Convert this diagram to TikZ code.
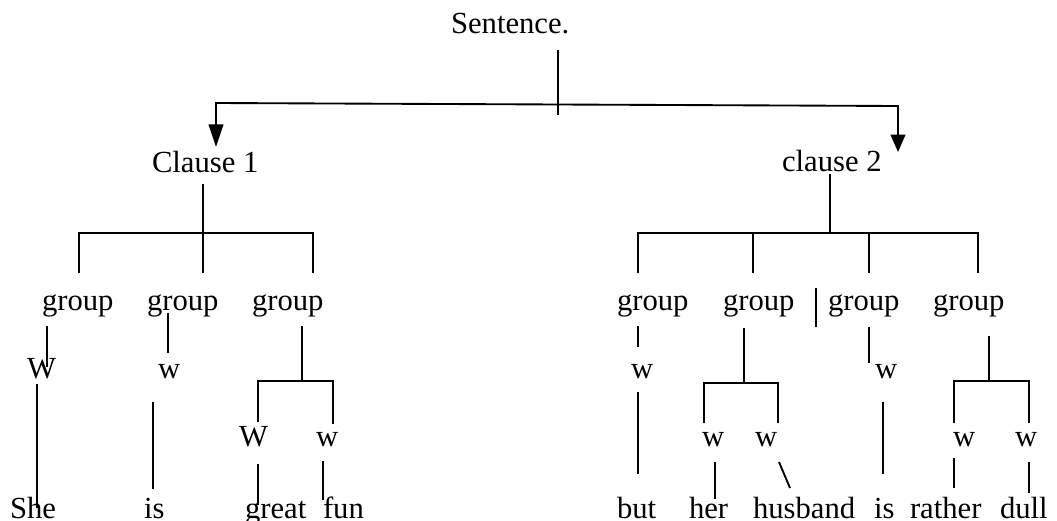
\documentclass[tikz,border=0pt]{standalone}
\usepackage{fontspec}
\setmainfont{Liberation Serif}
\usetikzlibrary{arrows.meta}
\begin{document}
\begin{tikzpicture}[x=0.75pt,y=-0.75pt,
  lbl/.style={anchor=base west,inner sep=0pt,outer sep=0pt,
    font=\fontsize{23}{28}\selectfont},
  conn/.style={line width=1.4pt,line cap=butt,line join=miter},
  headL/.style={-{Triangle[length=17pt,width=11pt]}},
  headR/.style={-{Triangle[length=13pt,width=11pt]}}]
\useasboundingbox (0,0) rectangle (1057,521);

% ---- labels ----
\node[lbl] (sent) at (451,33) {Sentence.};
\node[lbl] (cl1) at (152,172) {Clause 1};
\node[lbl] (cl2) at (782,171) {clause 2};

\node[lbl] (ga) at (42,310) {group};
\node[lbl] (gb) at (147,310) {group};
\node[lbl] (gc) at (252,310) {group};
\node[lbl] (gd) at (617,310) {group};
\node[lbl] (ge) at (723,310) {group};
\node[lbl] (gf) at (828,310) {group};
\node[lbl] (gg) at (933,310) {group};

\node[lbl] (wa) at (27,378) {W};
\node[lbl] (wb) at (158,378) {w};
\node[lbl] (wc) at (239,446) {W};
\node[lbl] (wd) at (316,446) {w};
\node[lbl] (we) at (631,378) {w};
\node[lbl] (wf) at (702,446) {w};
\node[lbl] (wg) at (755,446) {w};
\node[lbl] (wh) at (875,378) {w};
\node[lbl] (wi) at (953,446) {w};
\node[lbl] (wj) at (1015,446) {w};

\node[lbl] (she) at (10,518) {She};
\node[lbl] (is1) at (144,518) {is};
\node[lbl] (great) at (245,518) {great};
\node[lbl] (fun) at (323,518) {fun};
\node[lbl] (but) at (617,518) {but};
\node[lbl] (her) at (689,518) {her};
\node[lbl] (husb) at (753,518) {husband};
\node[lbl] (is2) at (874,518) {is};
\node[lbl] (rather) at (910,518) {rather};
\node[lbl] (dull) at (1000,518) {dull};

% ---- connector end points ----
% sentence level
\coordinate (s1) at (558,50);
\coordinate (s2) at (558,115);
\coordinate (sm) at (558,104.5);
\coordinate (bl) at (216,103);
\coordinate (br) at (898,106);
\coordinate (tl) at (216,147);
\coordinate (tr) at (898,152);
% clause 1
\coordinate (c1a) at (203,184);
\coordinate (c1b) at (203,233);
\coordinate (c1l) at (79,233);
\coordinate (c1r) at (313,233);
\coordinate (c1l2) at (79,273);
\coordinate (c1m2) at (203,273);
\coordinate (c1r2) at (313,273);
% clause 2
\coordinate (c2a) at (830,174);
\coordinate (c2b) at (830,233);
\coordinate (c2l) at (638,233);
\coordinate (c2p) at (753,233);
\coordinate (c2q) at (869,233);
\coordinate (c2r) at (978,233);
\coordinate (c2l2) at (638,273);
\coordinate (c2p2) at (753,273);
\coordinate (c2q2) at (869,273);
\coordinate (c2r2) at (978,273);
% first clause, groups and words
\coordinate (ga1) at (47,326);   \coordinate (ga2) at (47,367);
\coordinate (she1) at (37,384);  \coordinate (she2) at (37,508);
\coordinate (gb1) at (168,313);  \coordinate (gb2) at (168,353);
\coordinate (is11) at (153,402); \coordinate (is12) at (153,489);
\coordinate (gc1) at (302,326);  \coordinate (gc2) at (302,381);
\coordinate (gcl) at (258,381);  \coordinate (gcr) at (333,381);
\coordinate (gcl2) at (258,422); \coordinate (gcr2) at (333,424);
\coordinate (gr1) at (258,464);  \coordinate (gr2) at (258,505);
\coordinate (fu1) at (323,461);  \coordinate (fu2) at (323,500);
% second clause, groups and words
\coordinate (gd1) at (638,326);  \coordinate (gd2) at (638,347);
\coordinate (bu1) at (638,392);  \coordinate (bu2) at (638,474);
\coordinate (ge1) at (744,328);  \coordinate (ge2) at (744,383);
\coordinate (gel) at (704,383);  \coordinate (ger) at (778,383);
\coordinate (gel2) at (704,423); \coordinate (ger2) at (778,423);
\coordinate (he1) at (715,462);  \coordinate (he2) at (715,499);
\coordinate (hu1) at (779,462);  \coordinate (hu2) at (790,488);
\coordinate (st1) at (816,288);  \coordinate (st2) at (816,327);
\coordinate (gf1) at (869,327);  \coordinate (gf2) at (869,363);
\coordinate (is21) at (883,402); \coordinate (is22) at (883,474);
\coordinate (gg1) at (989,336);  \coordinate (gg2) at (989,381);
\coordinate (ggl) at (954,381);  \coordinate (ggr) at (1029,381);
\coordinate (ggl2) at (954,423); \coordinate (ggr2) at (1029,423);
\coordinate (ra1) at (954,458);  \coordinate (ra2) at (954,488);
\coordinate (du1) at (1029,462); \coordinate (du2) at (1029,493);

% ---- connectors ----
\draw[conn] (s1) -- (s2);
\draw[conn,headL] (sm) -- (bl) -- (tl);
\draw[conn,headR] (sm) -- (br) -- (tr);

\draw[conn] (c1a) -- (c1b);
\draw[conn] (c1l2) -- (c1l) -- (c1r) -- (c1r2);
\draw[conn] (c1b) -- (c1m2);

\draw[conn] (c2a) -- (c2b);
\draw[conn] (c2l2) -- (c2l) -- (c2r) -- (c2r2);
\draw[conn] (c2p) -- (c2p2);
\draw[conn] (c2q) -- (c2q2);

\draw[conn] (ga1) -- (ga2);
\draw[conn] (she1) -- (she2);
\draw[conn] (gb1) -- (gb2);
\draw[conn] (is11) -- (is12);
\draw[conn] (gc1) -- (gc2);
\draw[conn] (gcl2) -- (gcl) -- (gcr) -- (gcr2);
\draw[conn] (gr1) -- (gr2);
\draw[conn] (fu1) -- (fu2);

\draw[conn] (gd1) -- (gd2);
\draw[conn] (bu1) -- (bu2);
\draw[conn] (ge1) -- (ge2);
\draw[conn] (gel2) -- (gel) -- (ger) -- (ger2);
\draw[conn] (he1) -- (he2);
\draw[conn] (hu1) -- (hu2);
\draw[conn] (st1) -- (st2);
\draw[conn] (gf1) -- (gf2);
\draw[conn] (is21) -- (is22);
\draw[conn] (gg1) -- (gg2);
\draw[conn] (ggl2) -- (ggl) -- (ggr) -- (ggr2);
\draw[conn] (ra1) -- (ra2);
\draw[conn] (du1) -- (du2);
\end{tikzpicture}
\end{document}
